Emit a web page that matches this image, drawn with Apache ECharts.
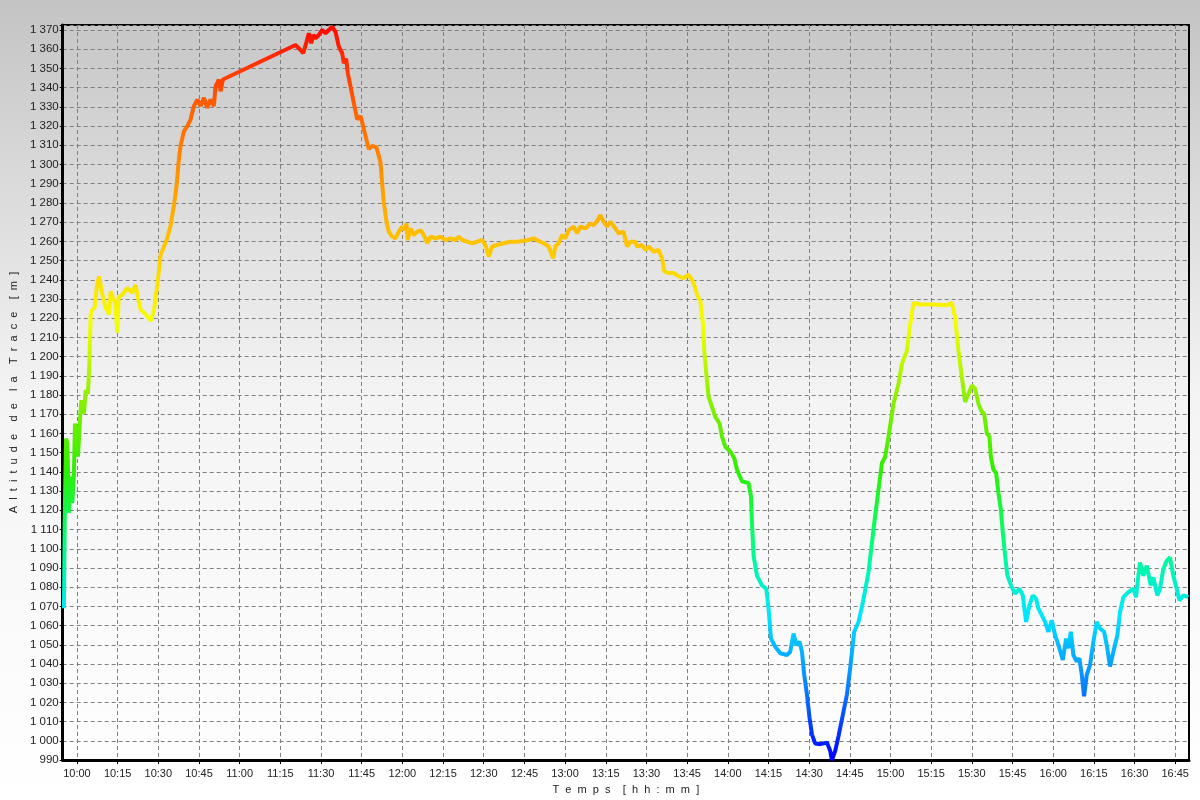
<!DOCTYPE html>
<html>
<head>
<meta charset="utf-8">
<script src="https://cdn.jsdelivr.net/npm/echarts@6/dist/echarts.min.js"></script>
<style>html,body{margin:0;padding:0;}#chart{width:1200px;height:800px;}</style>
</head>
<body>
<div id="chart"></div>
<script>
// Minutes after 10:00
var timeMinutes = [
-4.79,-4.53,-4.05,-3.54,-2.95,-2.32,-1.70,-1.11,-0.74,-0.11,0.37,1.11,1.62,2.58,3.21,4.05,4.57,5.05,5.68,6.52,
7.26,8.11,9.36,10.58,11.79,12.42,13.42,14.15,14.89,15.37,16.73,18.57,20.42,21.63,22.48,23.48,25.32,27.16,28.38,
29.63,30.85,33.32,34.53,35.75,36.74,37.59,38.22,39.43,40.69,41.90,43.12,44.37,45.59,46.81,48.06,49.28,50.49,51.12,52.33,52.96,53.81,
80.60,82.44,83.44,84.66,85.50,86.39,87.12,87.97,89.19,90.44,91.66,92.87,94.13,95.34,96.56,97.81,98.40,99.29,99.88,100.87,
102.09,103.34,104.56,105.18,106.40,107.62,108.87,110.45,111.30,111.93,
112.55,113.14,114.14,114.99,116.24,117.46,118.67,119.93,120.77,121.51,121.99,122.99,124.20,125.45,126.67,127.89,129.14,130.36,132.20,134.04,
135.89,137.73,139.57,140.79,142.04,143.88,145.72,147.57,149.41,150.63,151.84,153.10,154.94,157.37,159.84,162.31,164.74,166.58,168.43,170.27,
172.11,173.96,175.58,176.42,177.64,178.89,180.11,181.33,183.17,184.42,185.64,187.48,189.32,190.54,192.01,193.01,194.23,195.48,196.70,198.54,
199.75,201.60,202.85,204.07,205.91,206.54,208.38,209.60,210.81,212.65,214.50,215.12,215.75,216.60,218.18,220.02,221.87,223.71,225.55,226.81,228.02,
228.65,229.87,230.86,231.34,232.08,232.92,234.18,235.39,236.98,237.86,239.08,240.92,242.39,243.39,245.23,247.66,248.55,248.92,249.51,250.76,
252.61,254.19,255.04,255.92,257.50,259.35,261.82,263.03,264.25,265.24,266.46,267.35,268.19,269.19,270.15,271.03,272.25,274.09,276.56,277.78,
278.40,279.62,280.83,282.45,283.93,285.14,286.62,288.21,289.83,291.89,293.73,295.58,296.83,298.05,299.26,301.11,302.95,304.20,306.05,307.26,308.48,
310.94,315.85,320.79,322.63,323.85,325.06,326.32,327.53,328.75,330.00,331.22,332.43,333.69,334.53,335.53,336.49,337.00,337.96,338.95,339.80,
340.69,341.42,342.27,343.12,344.74,345.96,347.54,348.79,350.01,351.23,352.48,353.70,354.55,355.80,357.02,358.23,359.48,360.70,361.92,363.54,
364.76,365.60,366.49,367.44,368.70,369.65,370.54,371.39,372.38,373.60,374.82,376.06,377.28,378.76,379.75,380.97,382.19,383.66,384.65,385.87,
387.72,389.56,390.55,391.40,392.03,393.25,394.50,395.97,396.93,398.40,399.40,400.61,401.87,403.08,404.30,405.55,406.51,407.98,409.82
];
// Altitude [m]
var altitudes = [
1069,1113.5,1157.4,1155,1118.7,1137.6,1123.9,1139.4,1165.2,1160,1148,1167,1177.4,1170.3,1182.5,1180.7,1196,1222,1224.5,1225.4,
1235.7,1241.8,1232.3,1225.4,1222,1234,1229.7,1228,1212.5,1230.6,1232.3,1235.7,1233.2,1237.4,1230.6,1224.5,1222,1218.6,1223.7,
1237.4,1252.9,1261.6,1268.4,1278.7,1289,1302.9,1309.7,1317.2,1320,1323.5,1330.4,1333.8,1330.4,1334.7,1329.5,1333.8,1330.4,1340.7,1344.2,1338.1,1344.2,
1362.2,1359.6,1357.9,1363.9,1368.3,1363.1,1367.4,1365.7,1367.4,1370,1368.3,1370,1371.7,1369,1361.4,1357.9,1352.7,1355,1347.6,1340.7,
1332,1323.5,1325.2,1321.8,1314.9,1308,1309.7,1308.9,1304.6,1301.2,
1290,1280.5,1270.2,1265,1262.4,1261.6,1265,1267.6,1265.8,1269.3,1260.7,1266.7,1263.3,1265,1265.8,1263.3,1259,1262.4,1261.6,1262.4,
1260.7,1261.6,1260.7,1262.4,1260.7,1259.8,1259,1259.8,1260.7,1258.1,1252.1,1257.3,1258.1,1259,1259.8,1259.8,1260.3,1260.7,1261.6,1260.2,
1259,1257.3,1251.2,1257.3,1259,1263.3,1261.6,1265.8,1267.6,1264.1,1267.6,1266.7,1269.3,1268.4,1271,1273.6,1270.2,1267.6,1270.2,1266.7,
1264.1,1265,1257.3,1259.8,1259.8,1257.3,1258.1,1255.5,1257.3,1254.7,1255.5,1256.4,1251.2,1244.4,1243.5,1243.5,1241.8,1240.9,1242.6,1240,1235.7,
1232.3,1228.9,1216.8,1203.1,1191,1179,1173.8,1168.6,1165.2,1158.3,1153.1,1150.6,1147.1,1141.1,1135.1,1134.2,1127.3,1113.5,1096.4,1086,
1080.9,1079.2,1068.8,1053.3,1049,1045.6,1044.7,1046.4,1055.9,1049.9,1051.6,1046.4,1034.4,1024.1,1012,1003.4,998.6,998.3,999.1,994.8,
990,994.8,1002.5,1013.7,1024.1,1037.9,1056.8,1061.9,1072.2,1087.7,1110.1,1130.8,1144.5,1148,1158.3,1175.5,1185.8,1196.1,1203.1,1216.8,1228,
1227.1,1227.1,1226.8,1228,1220.3,1203.1,1189.3,1176.4,1180.7,1185,1183.3,1175.5,1171.2,1170.3,1160,1158.3,1148,1141.1,1139.4,1129,
1120.5,1108.4,1096.4,1086,1080,1076.6,1079.2,1075.7,1061.9,1070.5,1075.7,1074,1068.8,1065.4,1061.9,1056.8,1062.8,1055,1049.9,1042.1,
1053.3,1048.2,1056.8,1044.7,1041.3,1043,1034.4,1023.2,1034.4,1039.6,1051.6,1061.9,1058.5,1056.8,1049.9,1038.7,1046.4,1055,1067.1,1074.8,
1077.4,1079.2,1074.8,1086,1092.9,1086,1091.2,1080.9,1085.1,1075.7,1079.2,1089.5,1093.8,1095.5,1086,1079.2,1073.1,1075.7,1074.8
];
// Tick positions (minutes after 10:00) for 10:00 ... 16:45
var timeTicks = [0,15,30,45,60,75,90,105,120,135,150,165,180,195,210,225,240,255,270,285,300,315,330,345,360,375,390,405];
var xAxisName = 'T  e  m  p  s    [  h  h  :  m  m  ]';
var yAxisName = 'A  l  t  i  t  u  d  e    d  e    l  a    T  r  a  c  e    [  m  ]';

var data = [];
for (var i = 0; i < Math.min(timeMinutes.length, altitudes.length); i++) {
  data.push([timeMinutes[i], altitudes[i]]);
}

function fmtTime(v) {
  var total = 600 + Math.round(v);
  var h = Math.floor(total / 60), m = total % 60;
  return h + ':' + (m < 10 ? '0' + m : m);
}
function fmtAlt(v) {
  if (Math.abs(v - Math.round(v / 10) * 10) > 0.01) return '';
  var s = String(Math.round(v));
  if (s.length > 3) s = s.slice(0, s.length - 3) + ' ' + s.slice(s.length - 3);
  return s;
}

var chart = echarts.init(document.getElementById('chart'), null, {renderer: 'canvas'});
var font = 'Liberation Sans, Arial, sans-serif';
chart.setOption({
  animation: false,
  backgroundColor: {
    type: 'linear', x: 0, y: 0, x2: 0, y2: 1,
    colorStops: [
      {offset: 0, color: '#c4c4c4'},
      {offset: 0.5, color: '#f4f4f4'},
      {offset: 1, color: '#ffffff'}
    ]
  },
  grid: {
    left: 62, top: 25, right: 11, bottom: 34,
    show: true, borderColor: '#000', borderWidth: 2, backgroundColor: 'transparent'
  },
  visualMap: {
    show: false, type: 'continuous', dimension: 1, min: 990, max: 1370, seriesIndex: 0,
    inRange: {
      color: ['#0000ff', '#0a80ff', '#00e8ff', '#00ff78', '#30ee00', '#90f000', '#f6ff00', '#ffc800', '#ff9400', '#ff5c00', '#ff0c00']
    }
  },
  xAxis: {
    type: 'value', min: -5.27, max: 410.08,
    name: xAxisName, nameLocation: 'middle', nameGap: 20,
    nameTextStyle: {color: '#222', fontFamily: font, fontSize: 11},
    axisLine: {show: true, onZero: false, lineStyle: {color: '#000', width: 3}},
    axisTick: {show: true, customValues: timeTicks, length: 4, lineStyle: {color: '#000'}},
    axisLabel: {customValues: timeTicks, formatter: fmtTime, color: '#222', fontFamily: font, fontSize: 11, margin: 8},
    splitLine: {show: true, lineStyle: {color: '#808080', type: [4, 3], width: 1}}
  },
  yAxis: {
    type: 'value', min: 990, max: 1372.6, interval: 10,
    name: yAxisName, nameLocation: 'middle', nameGap: 36, nameRotate: 90,
    nameTextStyle: {color: '#222', fontFamily: font, fontSize: 11},
    axisLine: {show: true, onZero: false, lineStyle: {color: '#000', width: 3}},
    axisTick: {show: true, length: 3, lineStyle: {color: '#000'}},
    axisLabel: {formatter: fmtAlt, color: '#222', fontFamily: font, fontSize: 11.5, margin: 4},
    splitLine: {show: true, lineStyle: {color: '#808080', type: [4, 3], width: 1}}
  },
  series: [{
    type: 'line', data: data, showSymbol: false, smooth: false,
    lineStyle: {width: 4}, clip: true
  }]
});
</script>
</body>
</html>
